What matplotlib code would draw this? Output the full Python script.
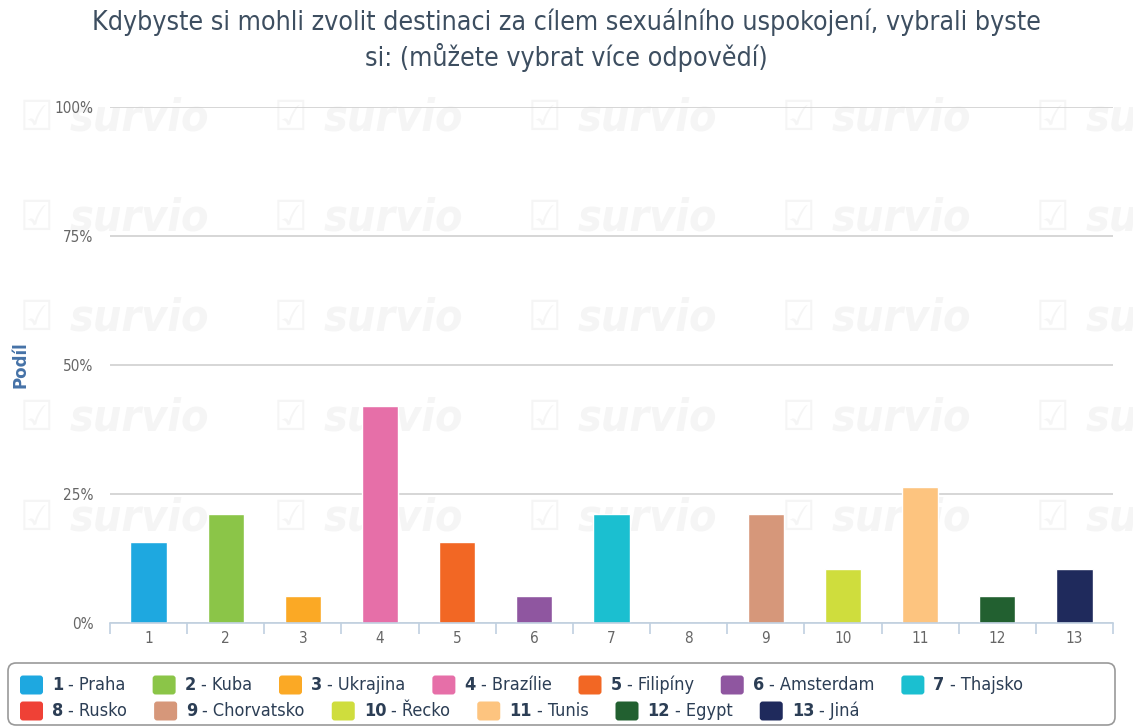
import matplotlib
matplotlib.use("Agg")
import matplotlib.pyplot as plt
from matplotlib.patches import FancyBboxPatch
from matplotlib.ticker import FixedLocator, FuncFormatter

# data (19 respondents, shares in %)
categories = ["1", "2", "3", "4", "5", "6", "7", "8", "9", "10", "11", "12", "13"]
names = ["Praha", "Kuba", "Ukrajina", "Brazílie", "Filipíny", "Amsterdam", "Thajsko",
         "Rusko", "Chorvatsko", "Řecko", "Tunis", "Egypt", "Jiná"]
shares = [15.79, 21.05, 5.26, 42.11, 15.79, 5.26, 21.05, 0.0, 21.05, 10.53, 26.32, 5.26, 10.53]
colors = ["#1ea8e0", "#8bc548", "#fba925", "#e66fa8", "#f26724", "#8f56a0", "#1bbfd0",
          "#ef4136", "#d6977a", "#cfdd3d", "#fdc47f", "#226030", "#1f2a5c"]
yticks = [0, 25, 50, 75, 100]

title = ("Kdybyste si mohli zvolit destinaci za cílem sexuálního uspokojení, vybrali byste\n"
         "si: (můžete vybrat více odpovědí)")

plt.rcParams["font.stretch"] = "condensed"

W, H = 1133, 728
fig = plt.figure(figsize=(W / 100, H / 100), dpi=100)
fig.patch.set_facecolor("white")

# overlay in pixel coordinates for watermark / legend
ov = fig.add_axes([0, 0, 1, 1], zorder=0)
ov.set_xlim(0, W)
ov.set_ylim(H, 0)
ov.axis("off")

for row_y in [118, 218, 318, 418, 518]:
    for col_x in [20, 274, 528, 782, 1036]:
        ov.text(col_x, row_y, "☑", fontsize=30, color="#f5f5f5", ha="left", va="center", clip_on=True)
        ov.text(col_x + 50, row_y, "survio", fontsize=32, color="#f5f5f5",
                fontweight="bold", style="italic", ha="left", va="center", clip_on=True)

ax = fig.add_axes([110 / W, 1 - 623 / H, 1003 / W, 516 / H], zorder=1)
ax.patch.set_alpha(0)
x = list(range(1, len(categories) + 1))
ax.bar(x, shares, width=0.47, color=colors, edgecolor="white", linewidth=1, zorder=3)

ax.set_xlim(0.5, len(categories) + 0.5)
ax.set_ylim(0, 100)
ax.set_yticks(yticks)
ax.yaxis.set_major_formatter(FuncFormatter(lambda v, p: f"{v:.0f}%"))
ax.grid(axis="y", color="#d3d3d3", linewidth=1.3, zorder=0)
ax.set_xticks(x)
ax.set_xticklabels(categories)
ax.xaxis.set_minor_locator(FixedLocator([i + 0.5 for i in range(0, len(categories) + 1)]))
ax.tick_params(axis="x", which="major", length=0, pad=6, labelsize=11, labelcolor="#666666")
ax.tick_params(axis="x", which="minor", length=8, width=1.2, color="#c0d0e0")
ax.tick_params(axis="y", length=0, pad=12, labelsize=11, labelcolor="#666666")
for s in ["top", "right", "left"]:
    ax.spines[s].set_visible(False)
ax.spines["bottom"].set_color("#c0d0e0")
ax.spines["bottom"].set_linewidth(1.2)
ax.spines["bottom"].set_zorder(4)

ax.set_ylabel("Podíl", fontsize=12, fontweight="bold", fontstretch="normal", color="#4572a7")
ax.yaxis.set_label_coords(-0.08, 0.5)

fig.text(0.5, 1 - 40 / H, title, ha="center", va="center", fontsize=19.2,
         color="#3d4e60", linespacing=1.3)

# legend box and flow layout
ov.add_patch(FancyBboxPatch((8, 663), 1107, 62, boxstyle="round,pad=0,rounding_size=8",
                            facecolor="white", edgecolor="#999999", linewidth=1.2))
renderer = fig.canvas.get_renderer()
txt_color = "#2c3e55"
lx, ly = 20, 685
for i, (cat, name, col) in enumerate(zip(categories, names, colors)):
    t1 = ov.text(0, ly, cat, fontsize=13, fontweight="bold", color=txt_color, ha="left", va="center")
    t2 = ov.text(0, ly, "- " + name, fontsize=13, color=txt_color, ha="left", va="center")
    w1 = t1.get_window_extent(renderer).width
    w2 = t2.get_window_extent(renderer).width
    item_w = 32 + w1 + 5 + w2
    if lx + item_w > 1105:
        lx = 20
        ly += 26
        t1.set_y(ly)
        t2.set_y(ly)
    ov.add_patch(FancyBboxPatch((lx, ly - 9.5), 23, 19, boxstyle="round,pad=0,rounding_size=3",
                                facecolor=col, edgecolor="none"))
    t1.set_x(lx + 32)
    t2.set_x(lx + 32 + w1 + 5)
    lx += item_w + 27

fig.savefig("out.png", dpi=100)
